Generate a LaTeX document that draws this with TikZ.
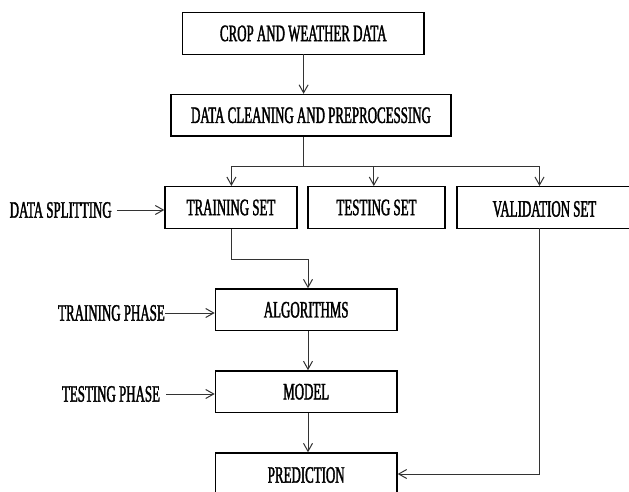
\documentclass[tikz,border=0pt]{standalone}
\usepackage{fontspec}
\setmainfont{Liberation Serif}[FakeStretch=0.55,FakeBold=1.5]
\usetikzlibrary{arrows.meta}
\tikzset{
  box/.style={draw=black, line width=1.4pt, fill=white, minimum height=41.6pt, inner sep=0pt, font=\fontsize{23.5}{26}\selectfont},
  lbl/.style={inner sep=0pt, font=\fontsize{23.5}{26}\selectfont},
  arr/.style={draw=black!80, line width=1pt, -{Straight Barb[length=8pt,width=9pt,line width=1pt]}},
  ln/.style={draw=black!80, line width=1pt}
}
\begin{document}
\begin{tikzpicture}[x=1pt,y=-1pt]
\useasboundingbox (0,0) rectangle (629,492);
\clip (0,0) rectangle (629,492);
\fill[white] (0,0) rectangle (629,492);
\node[box, minimum width=241.5pt] (b1) at (303.3,33.5) {CROP AND WEATHER DATA};
\node[box, minimum width=280pt] (b2) at (311,115.3) {DATA CLEANING AND PREPROCESSING};
\node[box, minimum width=132pt] (tr) at (231,207.5) {TRAINING SET};
\node[box, minimum width=137pt] (te) at (376.5,207.5) {TESTING SET};
\node[box, minimum width=203pt] (va) at (558.5,207.5) {};
\node[lbl] (vat) at (544.5,209) {VALIDATION SET};
\node[box, minimum width=181.6pt] (al) at (306.2,309.8) {ALGORITHMS};
\node[box, minimum width=181.6pt] (mo) at (306.2,391.7) {MODEL};
\node[box, minimum width=181.6pt, minimum height=44pt] (pr) at (306.2,475) {PREDICTION};
\node[lbl] (ds) at (60.7,210) {DATA SPLITTING};
\node[lbl] (tp) at (111.5,313) {TRAINING PHASE};
\node[lbl] (tsp) at (111,394) {TESTING PHASE};
% coordinates
\coordinate (c1) at (303.6,54.3);
\coordinate (c2) at (303.6,166);
\coordinate (sl) at (231.4,166);
\coordinate (sm) at (373.8,166);
\coordinate (sr) at (539.5,166);
\coordinate (vb) at (539.5,228.3);
\coordinate (vc) at (539.5,474);
\coordinate (tb) at (231.4,259);
\coordinate (tc) at (308,259);
% connectors
\draw[arr] (c1) -- (c1 |- b2.north);
\draw[ln] (c1 |- b2.south) -- (c2);
\draw[ln] (sl) -- (sr);
\draw[arr] (sl) -- (sl |- tr.north);
\draw[arr] (sm) -- (sm |- te.north);
\draw[arr] (sr) -- (sr |- va.north);
\draw[arr] ([xshift=5pt]ds.east) -- (tr.west |- ds);
\draw[ln] (tb |- tr.south) -- (tb) -- (tc);
\draw[arr] (tc) -- (tc |- al.north);
\draw[arr] (tp.east) -- (al.west |- tp.east);
\draw[arr] (tc |- al.south) -- (tc |- mo.north);
\draw[arr] ([xshift=6pt]tsp.east) -- (mo.west |- tsp.east);
\draw[arr] (tc |- mo.south) -- (tc |- pr.north);
\draw[ln] (vb) -- (vc);
\draw[arr] (vc) -- (pr.east |- vc);
\end{tikzpicture}
\end{document}
